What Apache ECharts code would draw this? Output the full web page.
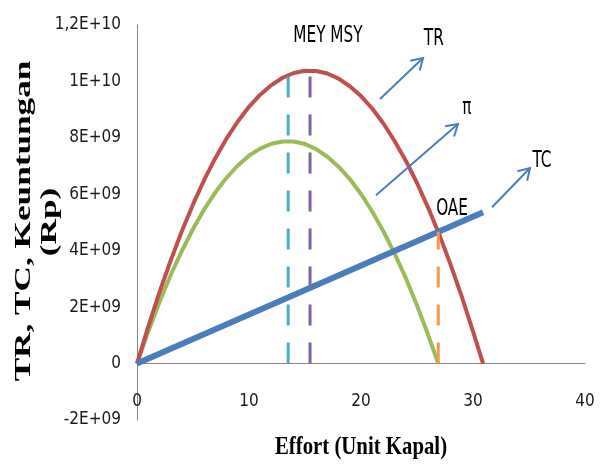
<!DOCTYPE html>
<html>
<head>
<meta charset="utf-8">
<script src="https://cdn.jsdelivr.net/npm/echarts@6/dist/echarts.min.js"></script>
<style>html,body{margin:0;padding:0;background:#fff}#c{width:600px;height:464px}</style>
</head>
<body>
<div id="c"></div>
<script>
// ---- data ----
const trEffort = [0,1,2,3,4,5,6,7,8,9,10,11,12,13,14,15,16,17,18,19,20,21,22,23,24,25,26,27,28,29,30,30.9];
const trValues = [0,1.30e9,2.52e9,3.65e9,4.69e9,5.64e9,6.51e9,7.29e9,7.98e9,8.58e9,9.10e9,9.53e9,9.87e9,10.13e9,10.30e9,10.38e9,10.37e9,10.28e9,10.10e9,9.83e9,9.48e9,9.04e9,8.51e9,7.89e9,7.19e9,6.40e9,5.52e9,4.56e9,3.51e9,2.37e9,1.14e9,0];
const profitEffort = [0,1,2,3,4,5,6,7,8,9,10,11,12,13,14,15,16,17,18,19,20,21,22,23,24,25,26,26.9];
const profitValues = [0,1.13e9,2.17e9,3.13e9,3.99e9,4.77e9,5.47e9,6.07e9,6.59e9,7.02e9,7.37e9,7.62e9,7.79e9,7.87e9,7.87e9,7.78e9,7.60e9,7.33e9,6.98e9,6.54e9,6.01e9,5.39e9,4.69e9,3.90e9,3.03e9,2.06e9,1.01e9,0];
const tcEffort = [0, 30.9];
const tcValues = [0, 5.36e9];
const meyEffort = 13.5, meyTop = 10.22e9;
const msyEffort = 15.45, msyTop = 10.38e9;
const oaeEffort = 26.9, oaeTop = 4.67e9;
const yTicks = [-2e9,0,2e9,4e9,6e9,8e9,1e10,1.2e10];
const yTickLabels = ['-2E+09','0','2E+09','4E+09','6E+09','8E+09','1E+10','1,2E+10'];
const xTitle = 'Effort (Unit Kapal)';
const yTitle1 = 'TR, TC, Keuntungan';
const yTitle2 = '(Rp)';
// annotation texts with anchor points in data coordinates
const notes = [
  {text:'MEY MSY', x:17.05, y:11.62e9},
  {text:'TR', x:26.5, y:11.51e9},
  {text:'π', x:29.46, y:9.06e9},
  {text:'TC', x:36.16, y:7.17e9},
  {text:'OAE', x:28.13, y:5.47e9}
];
const arrows = [
  {from:[21.7, 9.38e9], to:[25.54, 10.83e9]},
  {from:[21.34, 5.97e9], to:[28.66, 8.49e9]},
  {from:[31.7, 5.54e9], to:[35.09, 6.93e9]}
];

const zip = (xs, ys) => xs.map((x,i)=>[x, ys[i]]);
const narrow = "'Liberation Sans Narrow','DejaVu Sans Condensed','Arial Narrow',sans-serif";
const serifB = 'bold {S}px "Liberation Serif","Times New Roman",serif';
const chart = echarts.init(document.getElementById('c'));
const lineS = (name, data, color, width, z) => ({
  type:'line', name, data, showSymbol:false, symbol:'none', z,
  lineStyle:{color, width}, silent:true, animation:false
});
const dashS = (name, x, top, color) => ({
  type:'line', name, data:[[x,0],[x,top]], showSymbol:false, symbol:'none', z:6,
  lineStyle:{color, width:3, type:[21,17]}, silent:true, animation:false
});
chart.setOption({
  animation:false,
  grid:{left:137, right:15, top:25, bottom:44, outerBoundsMode:'none', containLabel:false},
  xAxis:{type:'value', min:0, max:40, interval:10,
    axisLine:{lineStyle:{color:'#868686', width:1}}, axisTick:{show:false}, splitLine:{show:false},
    axisLabel:{color:'#1a1a1a', fontSize:17, fontFamily:narrow, margin:-27}},
  yAxis:{type:'value', min:-2e9, max:1.2e10, interval:2e9,
    axisLine:{show:true, onZero:false, lineStyle:{color:'#868686', width:1}}, axisTick:{show:false}, splitLine:{show:false},
    axisLabel:{color:'#1a1a1a', fontSize:17, fontFamily:narrow, margin:16,
      formatter:v=>{const i=yTicks.findIndex(t=>Math.abs(t-v)<1); return i>=0?yTickLabels[i]:'';}}},
  series:[
    lineS('π', zip(profitEffort, profitValues), '#9bbb59', 4, 3),
    lineS('TR', zip(trEffort, trValues), '#c0504d', 4, 4),
    lineS('TC', zip(tcEffort, tcValues), '#4a7ebb', 6, 5),
    dashS('MEY', meyEffort, meyTop, '#4bacc6'),
    dashS('MSY', msyEffort, msyTop, '#8064a2'),
    dashS('OAE', oaeEffort, oaeTop, '#f79646')
  ]
});

const px = p => chart.convertToPixel({gridIndex:0}, p);
const g = [];
notes.forEach(n=>{
  const p = px([n.x, n.y]);
  g.push({type:'text', x:p[0], y:p[1], scaleY:1.4,
    style:{text:n.text, fill:'#000', font:'17px '+narrow, textAlign:'center', textVerticalAlign:'middle'}, z:10});
});
arrows.forEach(a=>{
  const s = px(a.from), e = px(a.to);
  const ang = Math.atan2(e[1]-s[1], e[0]-s[0]);
  const L = 13, spread = 0.55;
  const h1 = [e[0]-L*Math.cos(ang-spread), e[1]-L*Math.sin(ang-spread)];
  const h2 = [e[0]-L*Math.cos(ang+spread), e[1]-L*Math.sin(ang+spread)];
  g.push({type:'polyline', shape:{points:[s,e]}, style:{stroke:'#4a7ebb', lineWidth:2, fill:null}, z:10});
  g.push({type:'polyline', shape:{points:[h1,e,h2]}, style:{stroke:'#4a7ebb', lineWidth:2, fill:null}, z:10});
});
// axis titles
g.push({type:'text', x:361, y:447, scaleX:0.8,
  style:{text:xTitle, fill:'#000', font:serifB.replace('{S}',26), textAlign:'center', textVerticalAlign:'middle'}, z:10});
g.push({type:'text', x:24, y:221, rotation:Math.PI/2, scaleX:1.53,
  style:{text:yTitle1, fill:'#000', font:serifB.replace('{S}',23), textAlign:'center', textVerticalAlign:'middle'}, z:10});
g.push({type:'text', x:50, y:222, rotation:Math.PI/2, scaleX:1.53,
  style:{text:yTitle2, fill:'#000', font:serifB.replace('{S}',23), textAlign:'center', textVerticalAlign:'middle'}, z:10});
chart.setOption({graphic:g});
</script>
</body>
</html>
